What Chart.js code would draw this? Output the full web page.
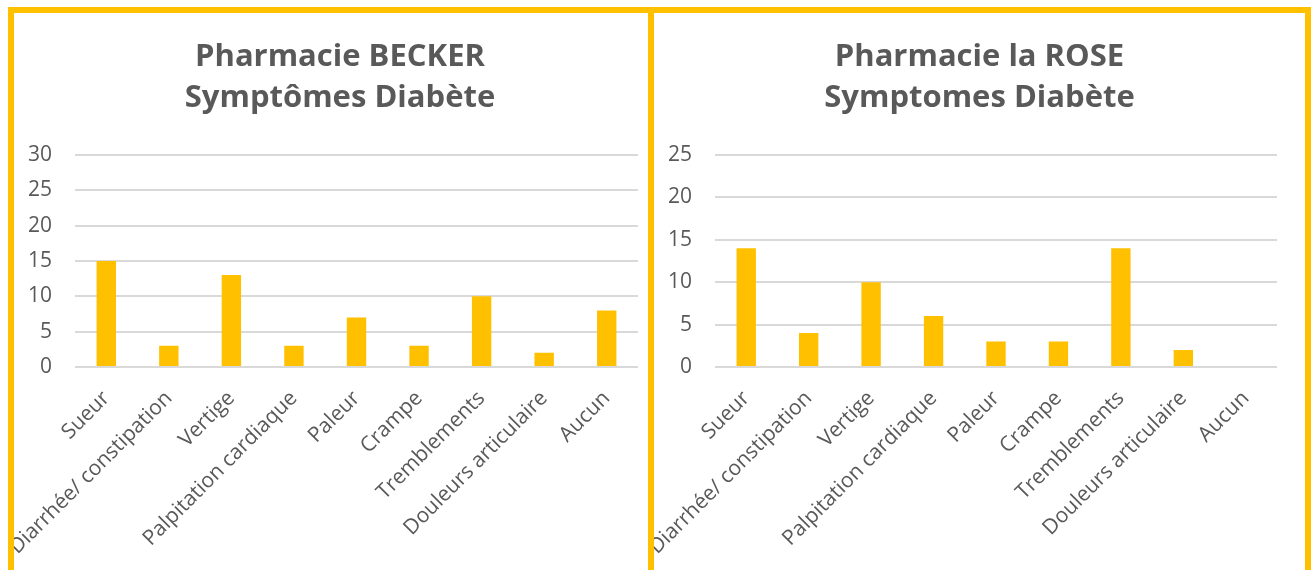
<!DOCTYPE html>
<html>
<head>
<meta charset="utf-8">
<script src="https://cdn.jsdelivr.net/npm/chart.js@4.4.1/dist/chart.umd.min.js"></script>
<style>
  body { margin:0; background:#fff; width:1316px; height:570px; overflow:hidden; position:relative; }
  .frame { position:absolute; top:7px; height:620px; border:6px solid #FFC000; border-bottom:none; background:#fff; overflow:hidden; }
  #left { left:8px; width:652px; border-right:none; }
  #right { left:648px; width:651px; z-index:2; }
  canvas { position:absolute; left:0; top:0; }
</style>
</head>
<body>
<div class="frame" id="left"><canvas id="becker" width="652" height="557"></canvas></div>
<div class="frame" id="right"><canvas id="rose" width="651" height="557"></canvas></div>
<script>
// symptom categories, same for both pharmacies
const categories = ['Sueur', 'Diarrhée/ constipation', 'Vertige', 'Palpitation cardiaque', 'Paleur',
                    'Crampe', 'Tremblements', 'Douleurs articulaire', 'Aucun'];
const beckerValues = [15, 3, 13, 3, 7, 3, 10, 2, 8];
const roseValues   = [14, 4, 10, 6, 3, 3, 14, 2, 0];
const beckerTitle = ['Pharmacie BECKER', 'Symptômes Diabète'];
const roseTitle   = ['Pharmacie la ROSE', 'Symptomes Diabète'];
const beckerMax = 30;
const roseMax = 25;
const yStep = 5;

const gold = '#FFC000';
const textGrey = '#595959';

function makeChart(id, titleLines, values, maxY) {
  return new Chart(document.getElementById(id), {
    type: 'bar',
    data: {
      labels: categories,
      datasets: [{
        data: values,
        backgroundColor: gold,
        barPercentage: 0.31,
        categoryPercentage: 1
      }]
    },
    options: {
      responsive: false,
      animation: false,
      layout: { padding: 0 },
      plugins: {
        legend: { display: false },
        tooltip: { enabled: false },
        title: {
          display: true,
          text: titleLines,
          color: textGrey,
          font: { family: 'Open Sans', size: 31, weight: 'bold', lineHeight: 1.32 },
          padding: { top: 24, bottom: 36 }
        }
      },
      scales: {
        x: {
          grid: { display: false },
          border: { display: false },
          ticks: {
            color: textGrey,
            font: { family: 'Open Sans', size: 21 },
            minRotation: 45, maxRotation: 45,
            autoSkip: false,
            padding: 11
          },
          afterFit(scale) {
            scale.height = 203;
            // keep a gap right of the plot without moving the title
            scale.paddingRight = 28;
          }
        },
        y: {
          min: 0, max: maxY,
          grid: { color: '#D9D9D9', lineWidth: 2, drawTicks: false },
          border: { display: false },
          ticks: {
            stepSize: yStep,
            color: textGrey,
            font: { family: 'Open Sans', size: 21 },
            padding: 23
          },
          afterFit(scale) { scale.width = 61; }
        }
      }
    }
  });
}

makeChart('becker', beckerTitle, beckerValues, beckerMax);
makeChart('rose', roseTitle, roseValues, roseMax);
</script>
</body>
</html>
